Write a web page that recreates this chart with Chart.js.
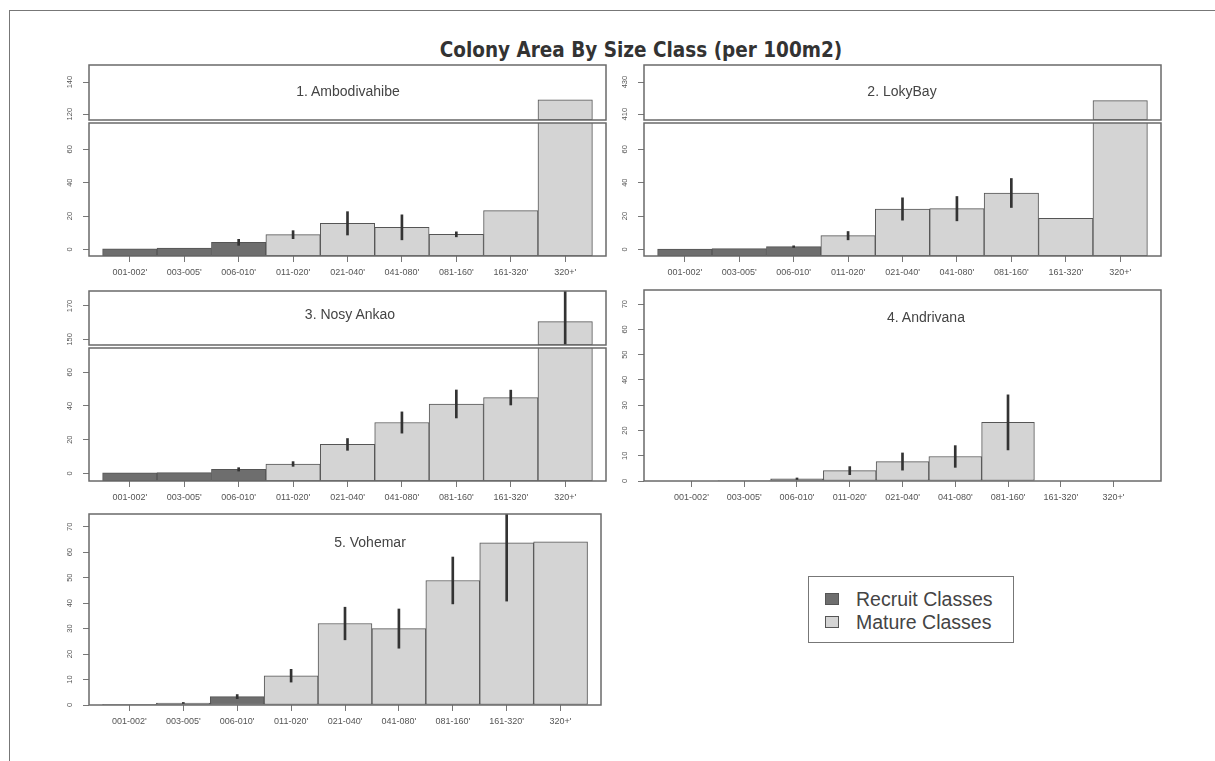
<!DOCTYPE html>
<html>
<head>
<meta charset="utf-8">
<title>Colony Area By Size Class</title>
<script src="https://cdn.jsdelivr.net/npm/chart.js@4.4.1/dist/chart.umd.min.js"></script>
<style>
  html, body { margin: 0; padding: 0; background: #fff; }
  body { position: relative; width: 1215px; height: 761px; overflow: hidden;
         font-family: "Liberation Sans", Arial, Helvetica, sans-serif; }
  .frame { position: absolute; left: 9px; top: 10px; width: 1220px; height: 760px;
           border-top: 1.5px solid #777; border-left: 1.5px solid #777; }
  canvas { position: absolute; }
  .main-title { position: absolute; left: 341px; width: 600px; top: 38px; text-align: center;
                font-family: "DejaVu Sans Condensed", "Liberation Sans", sans-serif;
                font-weight: bold; font-size: 20.5px; color: #333; white-space: nowrap; }
  .panel-title { position: absolute; transform: translate(-50%, -50%); font-size: 14px;
                 color: #444; white-space: nowrap; }
  .legend { position: absolute; left: 808px; top: 576px; width: 206px; height: 67px;
            border: 1.5px solid #777; box-sizing: border-box; }
  .legend-row { position: absolute; left: 16px; height: 22px; display: flex; align-items: center;
                font-size: 19.5px; color: #444; white-space: nowrap; }
  .swatch { width: 14px; height: 12px; border: 1px solid #555; box-sizing: border-box; margin-right: 17px; }
</style>
</head>
<body>
<div class="frame"></div>
<div class="main-title">Colony Area By Size Class (per 100m2)</div>

<script>
// Size classes (colony diameter, cm) shared by every site
const sizeClasses = ["001-002'", "003-005'", "006-010'", "011-020'", "021-040'", "041-080'", "081-160'", "161-320'", "320+'"];
const recruitClassCount = 3;

// Mean colony area per 100 m2 and its error, by size class
const ambodivahibeMean = [0.3, 0.8, 4.2, 8.8, 15.6, 13.2, 9.0, 23.2, 129];
const ambodivahibeErr  = [0, 0, 1.8, 2.4, 7.0, 7.5, 1.5, 0, 0];

const lokyBayMean = [0.2, 0.4, 1.6, 8.2, 24.2, 24.4, 33.8, 18.6, 418.4];
const lokyBayErr  = [0, 0, 0.5, 2.5, 6.7, 7.3, 8.7, 0, 0];

const nosyAnkaoMean = [0.3, 0.5, 2.4, 5.6, 17.2, 30.2, 41.2, 45.0, 160.6];
const nosyAnkaoErr  = [0, 0, 1.0, 1.4, 3.5, 6.3, 8.3, 4.4, 19];

const andrivanaMean = [0, 0.2, 0.9, 4.1, 7.7, 9.7, 23.2, 0, 0];
const andrivanaErr  = [0, 0, 0.3, 1.6, 3.4, 4.3, 10.9, 0, 0];

const vohemarMean = [0.1, 0.8, 3.3, 11.5, 32.0, 30.0, 48.9, 63.7, 64.1];
const vohemarErr  = [0, 0.2, 0.8, 2.5, 6.4, 7.7, 9.2, 22.9, 0];

// Axis ticks
const lowerTicks = [0, 20, 40, 60];
const ambodivahibeUpperTicks = [120, 140];
const lokyBayUpperTicks = [410, 430];
const nosyAnkaoUpperTicks = [150, 170];
const fullTicks = [0, 10, 20, 30, 40, 50, 60, 70];

// Panel titles and legend entries
const siteTitles = ["1. Ambodivahibe", "2. LokyBay", "3. Nosy Ankao", "4. Andrivana", "5. Vohemar"];
const legendLabels = ["Recruit Classes", "Mature Classes"];

// ---- styling ----
const RECRUIT_FILL = '#6e6e6e';
const MATURE_FILL = '#d4d4d4';
const BAR_EDGE = '#555';
const ERR_COLOR = '#333';
const AXIS_GREY = '#777';
const LABEL_GREY = '#555';
const FONT = '"Liberation Sans", Arial, sans-serif';

const AX_W = 46, PAD_T = 3, PAD_R = 3, PAD_B = 3, AX_H = 32;
const Y_LABEL_OFFSET = 19, TICK_LEN = 6, Y_FONT = 7.5, X_FONT = 9;

// Closed box around each plotting region
const frameBox = {
  id: 'frameBox',
  afterDraw(chart) {
    const { ctx, chartArea: a } = chart;
    ctx.save();
    ctx.strokeStyle = '#6a6a6a';
    ctx.lineWidth = 1.5;
    ctx.strokeRect(a.left, a.top, a.right - a.left, a.bottom - a.top);
    ctx.restore();
  }
};

const measureCtx = document.createElement('canvas').getContext('2d');
function widestLabel(ticks) {
  measureCtx.font = Y_FONT + 'px ' + FONT;
  return Math.max(...ticks.map(t => measureCtx.measureText(String(t)).width));
}

function noPadding(s) {
  s.paddingTop = 0; s.paddingBottom = 0; s.paddingLeft = 0; s.paddingRight = 0;
}

function drawBars(box, yMin, yMax, yTicks, xMin, xMax, mean, err, showX) {
  const w = box.r - box.l + AX_W + PAD_R;
  const h = box.b - box.t + PAD_T + (showX ? AX_H : PAD_B);
  const cv = document.createElement('canvas');
  cv.width = w; cv.height = h;
  cv.style.left = (box.l - AX_W) + 'px';
  cv.style.top = (box.t - PAD_T) + 'px';
  cv.style.width = w + 'px'; cv.style.height = h + 'px';
  document.body.appendChild(cv);

  const errData = mean.map((v, i) => err[i] > 0 ? { x: i, y: [v - err[i], v + err[i]] } : null).filter(Boolean);
  const yPad = Y_LABEL_OFFSET - TICK_LEN - widestLabel(yTicks) / 2;

  return new Chart(cv, {
    type: 'bar',
    data: {
      datasets: [
        {
          data: mean.map((v, i) => ({ x: i, y: v })),
          backgroundColor: mean.map((v, i) => i < recruitClassCount ? RECRUIT_FILL : MATURE_FILL),
          borderColor: BAR_EDGE,
          borderWidth: 1,
          borderSkipped: false,
          base: yMin,
          grouped: false,
          barPercentage: 1,
          categoryPercentage: 1,
          clip: 0,
          order: 2
        },
        {
          data: errData,
          backgroundColor: ERR_COLOR,
          borderWidth: 0,
          barThickness: 2,
          grouped: false,
          clip: 0,
          order: 1
        }
      ]
    },
    options: {
      responsive: false,
      maintainAspectRatio: false,
      animation: false,
      devicePixelRatio: 1,
      events: [],
      layout: { padding: { left: 0, top: PAD_T, right: PAD_R, bottom: showX ? 0 : PAD_B } },
      plugins: { legend: { display: false }, tooltip: { enabled: false }, title: { display: false } },
      scales: {
        x: {
          type: 'linear',
          min: xMin, max: xMax,
          offset: false,
          display: showX,
          afterBuildTicks: s => { s.ticks = sizeClasses.map((_, i) => ({ value: i })); },
          afterFit: s => { if (showX) s.height = AX_H; noPadding(s); },
          grid: { offset: false, drawOnChartArea: false, drawTicks: true, tickLength: TICK_LEN, color: AXIS_GREY, lineWidth: 1 },
          border: { display: false },
          ticks: {
            autoSkip: false, maxRotation: 0, minRotation: 0, padding: 5,
            color: LABEL_GREY, font: { family: FONT, size: X_FONT },
            callback: v => sizeClasses[v]
          }
        },
        y: {
          type: 'linear',
          min: yMin, max: yMax,
          afterBuildTicks: s => { s.ticks = yTicks.map(v => ({ value: v })); },
          afterFit: s => { s.width = AX_W; noPadding(s); },
          grid: { drawOnChartArea: false, drawTicks: true, tickLength: TICK_LEN, color: AXIS_GREY, lineWidth: 1 },
          border: { display: false },
          ticks: {
            autoSkip: false, minRotation: 90, maxRotation: 90, crossAlign: 'center', padding: yPad,
            color: LABEL_GREY, font: { family: FONT, size: Y_FONT },
            callback: v => String(v)
          }
        }
      }
    },
    plugins: [frameBox]
  });
}

function addText(cls, text, x, y) {
  const d = document.createElement('div');
  d.className = cls; d.textContent = text;
  d.style.left = x + 'px'; d.style.top = y + 'px';
  document.body.appendChild(d);
}

// 1. Ambodivahibe (broken axis)
drawBars({ l: 89, t: 65, r: 606, b: 120 }, 116.4, 150.6, ambodivahibeUpperTicks, -0.75, 8.75, ambodivahibeMean, ambodivahibeErr, false);
drawBars({ l: 89, t: 123, r: 606, b: 256 }, -4.0, 75.8, lowerTicks, -0.75, 8.75, ambodivahibeMean, ambodivahibeErr, true);
// 2. Loky Bay (broken axis)
drawBars({ l: 644, t: 65, r: 1161, b: 120 }, 406.4, 440.6, lokyBayUpperTicks, -0.75, 8.75, lokyBayMean, lokyBayErr, false);
drawBars({ l: 644, t: 123, r: 1161, b: 256 }, -4.0, 75.8, lowerTicks, -0.75, 8.75, lokyBayMean, lokyBayErr, true);
// 3. Nosy Ankao (broken axis)
drawBars({ l: 89, t: 291, r: 606, b: 345 }, 146.6, 179, nosyAnkaoUpperTicks, -0.75, 8.75, nosyAnkaoMean, nosyAnkaoErr, false);
drawBars({ l: 89, t: 348, r: 606, b: 481 }, -4.5, 74.4, lowerTicks, -0.75, 8.75, nosyAnkaoMean, nosyAnkaoErr, true);
// 4. Andrivana
drawBars({ l: 644, t: 290, r: 1161, b: 481 }, 0, 75.6, fullTicks, -0.9, 8.9, andrivanaMean, andrivanaErr, true);
// 5. Vohemar
drawBars({ l: 89, t: 514, r: 601, b: 705 }, 0, 75, fullTicks, -0.75, 8.75, vohemarMean, vohemarErr, true);

addText('panel-title', siteTitles[0], 348, 91);
addText('panel-title', siteTitles[1], 902, 91);
addText('panel-title', siteTitles[2], 350, 314);
addText('panel-title', siteTitles[3], 926, 317);
addText('panel-title', siteTitles[4], 370, 542);

// Legend
const legend = document.createElement('div');
legend.className = 'legend';
[RECRUIT_FILL, MATURE_FILL].forEach((fill, i) => {
  const row = document.createElement('div');
  row.className = 'legend-row';
  row.style.top = (11 + i * 23) + 'px';
  const sw = document.createElement('div');
  sw.className = 'swatch';
  sw.style.background = fill;
  const tx = document.createElement('span');
  tx.textContent = legendLabels[i];
  row.appendChild(sw); row.appendChild(tx);
  legend.appendChild(row);
});
document.body.appendChild(legend);
</script>
</body>
</html>
